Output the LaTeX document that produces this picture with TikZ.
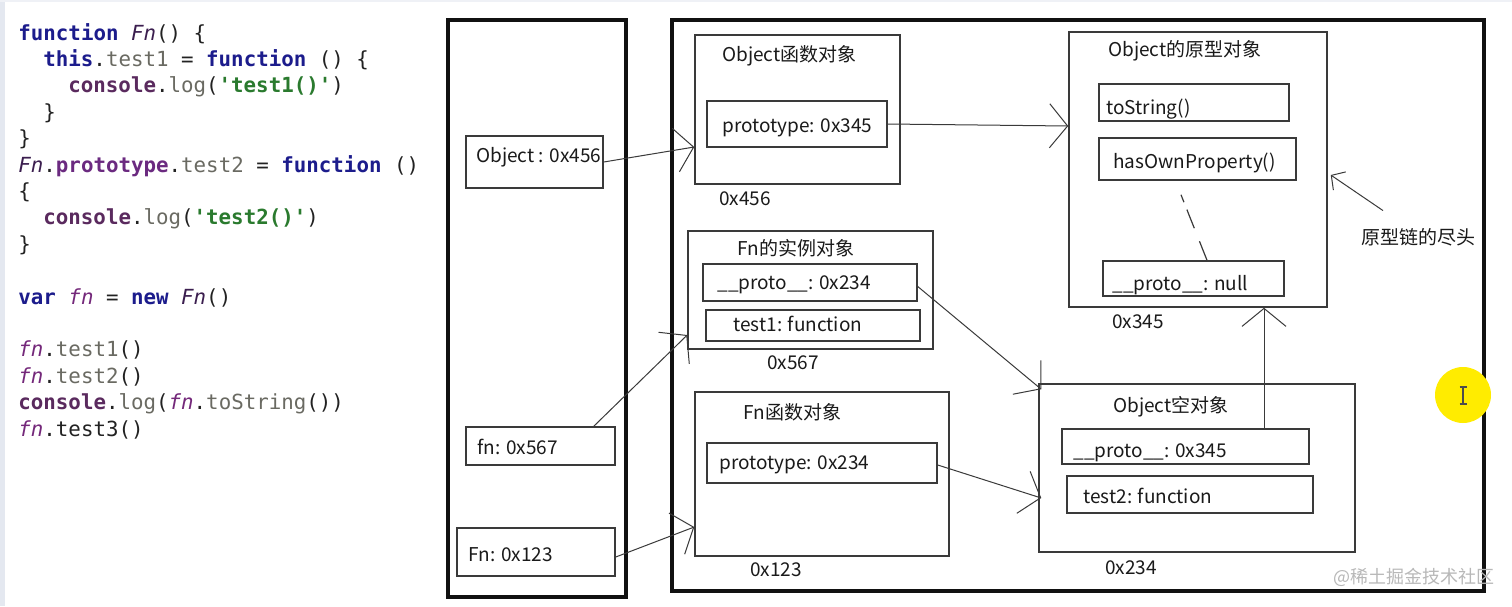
\documentclass[tikz,border=0pt]{standalone}
\usepackage{fontspec}
\setmonofont{DejaVu Sans Mono}
\newfontfamily\cjk{Noto Sans CJK SC}
\usetikzlibrary{arrows.meta,calc,fit}
\definecolor{kwc}{HTML}{1C1C8C}
\definecolor{fnc}{HTML}{3B1E4F}
\definecolor{varc}{HTML}{74287A}
\definecolor{prc}{HTML}{6B2A80}
\definecolor{conc}{HTML}{5A2A5E}
\definecolor{grc}{HTML}{6A6A62}
\definecolor{strc}{HTML}{2A7A2E}
\definecolor{codec}{HTML}{222222}
\definecolor{boxc}{HTML}{3A3A3A}
\definecolor{thickc}{HTML}{111111}
\definecolor{txtc}{HTML}{1A1A1A}
\definecolor{wmc}{HTML}{B8B8B8}
\definecolor{hiyel}{HTML}{FFEC00}
\definecolor{sidebar}{HTML}{E4E8F0}
\newcommand{\jkw}[1]{{\bfseries\color{kwc}#1}}
\newcommand{\jfn}[1]{{\itshape\color{fnc}#1}}
\newcommand{\jvar}[1]{{\itshape\color{varc}#1}}
\newcommand{\jpr}[1]{{\bfseries\color{prc}#1}}
\newcommand{\jcon}[1]{{\bfseries\color{conc}#1}}
\newcommand{\jgr}[1]{{\color{grc}#1}}
\newcommand{\jstr}[1]{{\bfseries\color{strc}#1}}
\newcommand{\jdk}[1]{{\color{codec}#1}}
\tikzset{
  code/.style={font=\ttfamily\fontsize{10.4}{12}\selectfont, text=codec, inner sep=0pt, anchor=base west},
  bx/.style={draw=boxc, line width=0.75pt, inner sep=0pt},
  thickbx/.style={draw=thickc, line width=1.8pt, inner sep=0pt},
  lbl/.style={font=\cjk\fontsize{9.5}{11}\selectfont, text=txtc, inner sep=0pt, anchor=base west},
  arr/.style={draw=boxc, line width=0.5pt, -{Straight Barb[length=9pt,width=22pt]}},
  smallarr/.style={draw=boxc, line width=0.5pt, -{Straight Barb[length=5pt,width=11pt]}},
  dashline/.style={draw=boxc, line width=0.6pt, dash pattern=on 4pt off 4pt on 10pt off 7pt on 12pt off 2pt},
}
\begin{document}
\begin{tikzpicture}[x=0.5pt,y=-0.5pt]
\useasboundingbox (0,0) rectangle (1512,606);
\fill[white] (0,0) rectangle (1512,606);
\fill[sidebar] (0,0) rectangle (5,606);
\fill[sidebar!60] (0,0) rectangle (1512,2);

% ---------------- code ----------------
\node[code] (c0) at (18,40) {\jkw{function} \jfn{Fn}() \{};
\node[code] (c1) at (43,66.4) {\jkw{this}.\jgr{test1} = \jkw{function} () \{};
\node[code] (c2) at (68,92.8) {\jcon{console}.\jgr{log}(\jstr{'test1()'})};
\node[code] (c3) at (43,119.2) {\}};
\node[code] (c4) at (18,145.6) {\}};
\node[code] (c5) at (18,172) {\jfn{Fn}.\jpr{prototype}.\jgr{test2} = \jkw{function} ()};
\node[code] (c6) at (18,198.4) {\{};
\node[code] (c7) at (43,224.8) {\jcon{console}.\jgr{log}(\jstr{'test2()'})};
\node[code] (c8) at (18,251.2) {\}};
\node[code] (c10) at (18,304) {\jkw{var} \jvar{fn} = \jkw{new} \jfn{Fn}()};
\node[code] (c12) at (18,356.8) {\jvar{fn}.\jgr{test1}()};
\node[code] (c13) at (18,383.2) {\jvar{fn}.\jgr{test2}()};
\node[code] (c14) at (18,409.6) {\jcon{console}.\jgr{log}(\jvar{fn}.\jgr{toString}())};
\node[code] (c15) at (18,436) {\jvar{fn}.\jdk{test3}()};

% ---------------- frames ----------------
\node[thickbx, fit={(448,20) (626,597)}] (stack) {};
\node[thickbx, fit={(672,20) (1484,591)}] (heap) {};

% stack entries
\node[bx, fit={(466,136) (603,188)}] (o456) {};
\node[lbl] at (476,162) {Object : 0x456};
\node[bx, fit={(466,427) (615,465)}] (fn567) {};
\node[lbl] at (477,454) {fn: 0x567};
\node[bx, fit={(457,528) (615,576)}] (fn123) {};
\node[lbl] at (468,561) {Fn: 0x123};

% Object function object
\node[bx, fit={(695,35) (900,184)}] (ofn) {};
\node[lbl] at (722,61) {Object函数对象};
\node[bx, fit={(707,101) (887,147)}] (ofnp) {};
\node[lbl] at (722,132) {prototype: 0x345};
\node[lbl] at (719,205) {0x456};

% Object prototype object
\node[bx, fit={(1069,32) (1327,307)}] (oproto) {};
\node[lbl] at (1108,56) {Object的原型对象};
\node[bx, fit={(1099,84) (1289,121)}] (tostr) {};
\node[lbl] at (1106,114) {toString()};
\node[bx, fit={(1099,138) (1296,180)}] (hasown) {};
\node[lbl] at (1113,168) {hasOwnProperty()};
\node[bx, fit={(1103,261) (1284,296)}] (pnull) {};
\node[lbl] at (1112,290) {\_\_proto\_\_: null};
\node[lbl] at (1112,328) {0x345};
\node[lbl] (endlbl) at (1361,244) {原型链的尽头};

% Fn instance
\node[bx, fit={(688,231) (933,349)}] (inst) {};
\node[lbl] at (737,255) {Fn的实例对象};
\node[bx, fit={(703,264) (917,301)}] (instp) {};
\node[lbl] at (717,289) {\_\_proto\_\_: 0x234};
\node[bx, fit={(706,310) (920,341)}] (instt) {};
\node[lbl] at (733,331) {test1: function};
\node[lbl] at (767,369) {0x567};

% Fn function object
\node[bx, fit={(695,392) (949,556)}] (fnf) {};
\node[lbl] at (743,419) {Fn函数对象};
\node[bx, fit={(707,443) (937,483)}] (fnfp) {};
\node[lbl] at (719,469) {prototype: 0x234};
\node[lbl] at (750,576) {0x123};

% Object empty object
\node[bx, fit={(1039,384) (1355,552)}] (empty) {};
\node[lbl] at (1113,412) {Object空对象};
\node[bx, fit={(1062,429) (1309,464)}] (emptyp) {};
\node[lbl] at (1073,457) {\_\_proto\_\_: 0x345};
\node[bx, fit={(1067,476) (1313,513)}] (emptyt) {};
\node[lbl] at (1083,503) {test2: function};
\node[lbl] at (1105,574) {0x234};

% ---------------- connectors ----------------
\draw[arr] (o456.east) -- ($(ofn.west)+(0,37.5)$);
\draw[arr] (ofnp.east) -- ($(oproto.west)+(0,-43.5)$);
\draw[arr] ($(fn567.north east)+(-22,0)$) -- ($(inst.west)+(0,45)$);
\draw[arr] ($(fn123.east)+(0,5)$) -- ($(fnf.west)+(0,53)$);
\draw[arr] ($(instp.east)+(0,4)$) -- ($(empty.north west)+(3,6)$);
\draw[arr] ($(fnfp.east)+(0,2)$) -- ($(empty.west)+(3,30)$);
\coordinate (upstart) at ($(emptyp.north)+(78.5,0)$);
\draw[arr] (upstart) -- (upstart |- oproto.south);
\coordinate (endtail) at ($(endlbl.north west)+(22,-17)$);
\draw[smallarr] (endtail) -- ($(oproto.east)+(3,5.5)$);
\draw[dashline] ($(hasown.south)+(-16.5,14)$) -- ($(pnull.north)+(13.5,0)$);

% ---------------- cursor highlight ----------------
\fill[hiyel] (1463,395) circle[radius=28];
\draw[gray!60!black, line width=0.6pt] (1463,387) -- (1463,404);
\draw[gray!60!black, line width=0.6pt] (1459.5,387) -- (1466.5,387) (1459.5,404) -- (1466.5,404);

% ---------------- watermark ----------------
\node[font=\cjk\fontsize{9}{10}\selectfont, text=wmc, inner sep=0pt, anchor=base west] (wm) at (1333,583) {@稀土掘金技术社区};
\end{tikzpicture}
\end{document}
